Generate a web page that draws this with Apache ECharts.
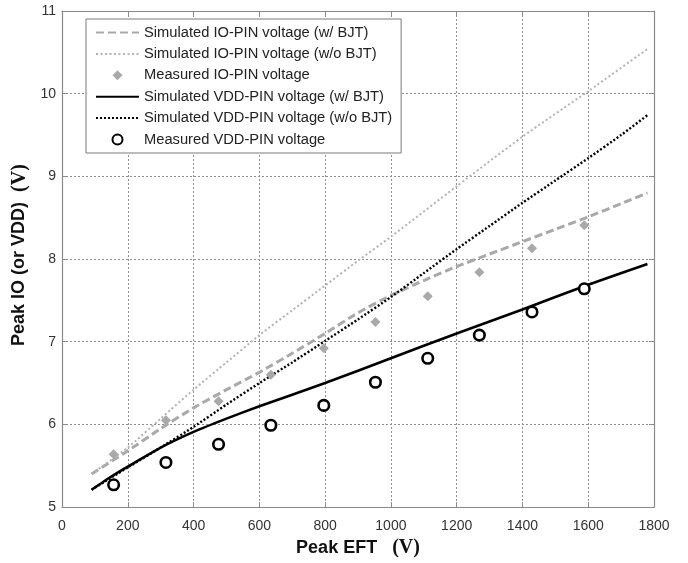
<!DOCTYPE html>
<html>
<head>
<meta charset="utf-8">
<script src="https://cdn.jsdelivr.net/npm/echarts@6/dist/echarts.min.js"></script>
<style>
html,body{margin:0;padding:0;background:#fff;}
#chart{width:688px;height:563px;}
</style>
</head>
<body>
<div id="chart"></div>
<script>
// ---- data ----
var xTicks = [0, 200, 400, 600, 800, 1000, 1200, 1400, 1600, 1800];
var yTicks = [5, 6, 7, 8, 9, 10, 11];

// simulated curves (x, y)
var ioSimBJTX    = [90, 200, 300, 400, 500, 600, 700, 800, 900, 1000, 1100, 1200, 1300, 1400, 1500, 1600, 1700, 1780];
var ioSimBJT     = [5.40, 5.68, 5.95, 6.20, 6.42, 6.63, 6.86, 7.10, 7.35, 7.56, 7.74, 7.91, 8.06, 8.21, 8.36, 8.51, 8.67, 8.80];
var ioSimNoBJTX  = [90, 200, 300, 400, 500, 600, 700, 800, 900, 1000, 1200, 1400, 1600, 1780];
var ioSimNoBJT   = [5.40, 5.72, 6.07, 6.42, 6.75, 7.08, 7.38, 7.68, 7.98, 8.27, 8.88, 9.48, 10.03, 10.54];
var vddSimBJTX   = [90, 150, 200, 300, 400, 500, 600, 800, 1000, 1200, 1400, 1600, 1780];
var vddSimBJT    = [5.21, 5.37, 5.49, 5.72, 5.91, 6.07, 6.22, 6.50, 6.80, 7.10, 7.39, 7.69, 7.94];
var vddSimNoBJTX = [90, 200, 300, 400, 500, 600, 700, 800, 900, 1000, 1100, 1200, 1300, 1400, 1500, 1600, 1700, 1780];
var vddSimNoBJT  = [5.21, 5.48, 5.72, 5.97, 6.24, 6.50, 6.75, 7.01, 7.27, 7.54, 7.83, 8.12, 8.40, 8.68, 8.95, 9.22, 9.50, 9.74];

// measured points
var measX   = [157, 316, 476, 635, 796, 953, 1112, 1269, 1429, 1588];
var ioMeas  = [5.64, 6.05, 6.28, 6.60, 6.92, 7.24, 7.55, 7.84, 8.13, 8.41];
var vddMeas = [5.27, 5.54, 5.76, 5.99, 6.23, 6.51, 6.80, 7.08, 7.36, 7.64];

var names = [
  'Simulated IO-PIN voltage (w/ BJT)',
  'Simulated IO-PIN voltage (w/o BJT)',
  'Measured IO-PIN voltage',
  'Simulated VDD-PIN voltage (w/ BJT)',
  'Simulated VDD-PIN voltage (w/o BJT)',
  'Measured VDD-PIN voltage'
];

function pairs(xs, ys){ return xs.map(function(x,i){ return [x, ys[i]]; }); }

var FONT = '"Liberation Sans", Arial, Helvetica, sans-serif';
var SERIF = '"Liberation Serif", "Times New Roman", serif';
var axisColor = '#8a8a8a';

var chart = echarts.init(document.getElementById('chart'), null, {renderer:'canvas'});
var xBase = {
  type:'value', min:0, max:1800, interval:200,
  axisLine:{show:true, onZero:false, lineStyle:{color:axisColor, width:1.2}},
  axisTick:{show:true, inside:true, length:5, lineStyle:{color:axisColor}},
  splitLine:{show:false}
};
var yBase = {
  type:'value', min:5, max:11, interval:1,
  axisLine:{show:true, onZero:false, lineStyle:{color:axisColor, width:1.2}},
  axisTick:{show:true, inside:true, length:5, lineStyle:{color:axisColor}},
  splitLine:{show:false}
};

var noSym = {opacity:0};

var option = {
  animation:false,
  backgroundColor:'#fff',
  textStyle:{fontFamily:FONT},
  grid:{left:62, right:34, top:11, bottom:46, containLabel:false},
  legend:{
    orient:'vertical',
    left:86, top:19,
    padding:[6,9,6,9],
    itemWidth:43, itemHeight:10, itemGap:6.4,
    backgroundColor:'#fff',
    borderColor:'#7a7a7a', borderWidth:1,
    textStyle:{fontFamily:FONT, fontSize:14.7, color:'#222', lineHeight:14},
    data:[
      {name:names[0], itemStyle:noSym},
      {name:names[1], itemStyle:noSym},
      {name:names[2], icon:'path://M5,0L10,5L5,10L0,5Z'},
      {name:names[3], itemStyle:noSym},
      {name:names[4], itemStyle:noSym},
      {name:names[5]}
    ]
  },
  xAxis:[
    Object.assign({}, xBase, {
      position:'bottom',
      axisLabel:{show:true, color:'#333', fontSize:14, margin:12, fontFamily:FONT,
        formatter:function(v){ return xTicks.indexOf(v) >= 0 ? String(v) : ''; }},
      splitLine:{show:true, lineStyle:{color:'#8f8f8f', type:[2,2], width:1}},
      name:'Peak EFT   {v|(V)}',
      nameLocation:'middle', nameGap:29,
      nameTextStyle:{fontFamily:FONT, fontWeight:'bold', fontSize:18, color:'#111',
        rich:{v:{fontFamily:SERIF, fontWeight:'bold', fontSize:20, color:'#111'}}}
    }),
    Object.assign({}, xBase, {position:'top', axisLabel:{show:false}})
  ],
  yAxis:[
    Object.assign({}, yBase, {
      position:'left',
      axisLabel:{show:true, color:'#333', fontSize:14, margin:6, fontFamily:FONT,
        formatter:function(v){ return yTicks.indexOf(v) >= 0 ? String(v) : ''; }},
      splitLine:{show:true, lineStyle:{color:'#8f8f8f', type:[2,2], width:1}},
      name:'Peak IO (or VDD)  {v|(V)}',
      nameLocation:'middle', nameGap:27, nameRotate:90,
      nameTextStyle:{fontFamily:FONT, fontWeight:'bold', fontSize:18, color:'#111',
        padding:[0,0,0,8],
        rich:{v:{fontFamily:SERIF, fontWeight:'bold', fontSize:20, color:'#111'}}}
    }),
    Object.assign({}, yBase, {position:'right', axisLabel:{show:false}})
  ],
  series:[
    {
      name:names[0], type:'line', data:pairs(ioSimBJTX, ioSimBJT), smooth:0.2,
      symbol:'none', showSymbol:false, z:3,
      lineStyle:{color:'#a9a9a9', width:3, type:[8,4]},
      itemStyle:{color:'#a9a9a9'}
    },
    {
      name:names[1], type:'line', data:pairs(ioSimNoBJTX, ioSimNoBJT), smooth:0.2,
      symbol:'none', showSymbol:false, z:3,
      lineStyle:{color:'#b3b3b3', width:2, type:[2,2.5]},
      itemStyle:{color:'#b3b3b3'}
    },
    {
      name:names[2], type:'scatter', data:pairs(measX, ioMeas),
      symbol:'diamond', symbolSize:10, z:5,
      itemStyle:{color:'#a9a9a9', opacity:1}
    },
    {
      name:names[3], type:'line', data:pairs(vddSimBJTX, vddSimBJT), smooth:0.2,
      symbol:'none', showSymbol:false, z:4,
      lineStyle:{color:'#000', width:2.6, type:'solid'},
      itemStyle:{color:'#000'}
    },
    {
      name:names[4], type:'line', data:pairs(vddSimNoBJTX, vddSimNoBJT), smooth:0.2,
      symbol:'none', showSymbol:false, z:4,
      lineStyle:{color:'#000', width:2.4, type:[2,2]},
      itemStyle:{color:'#000'}
    },
    {
      name:names[5], type:'scatter', data:pairs(measX, vddMeas),
      symbol:'circle', symbolSize:10.5, z:6,
      itemStyle:{color:'#fff', borderColor:'#000', borderWidth:2.6, opacity:1}
    }
  ]
};
chart.setOption(option);
</script>
</body>
</html>
